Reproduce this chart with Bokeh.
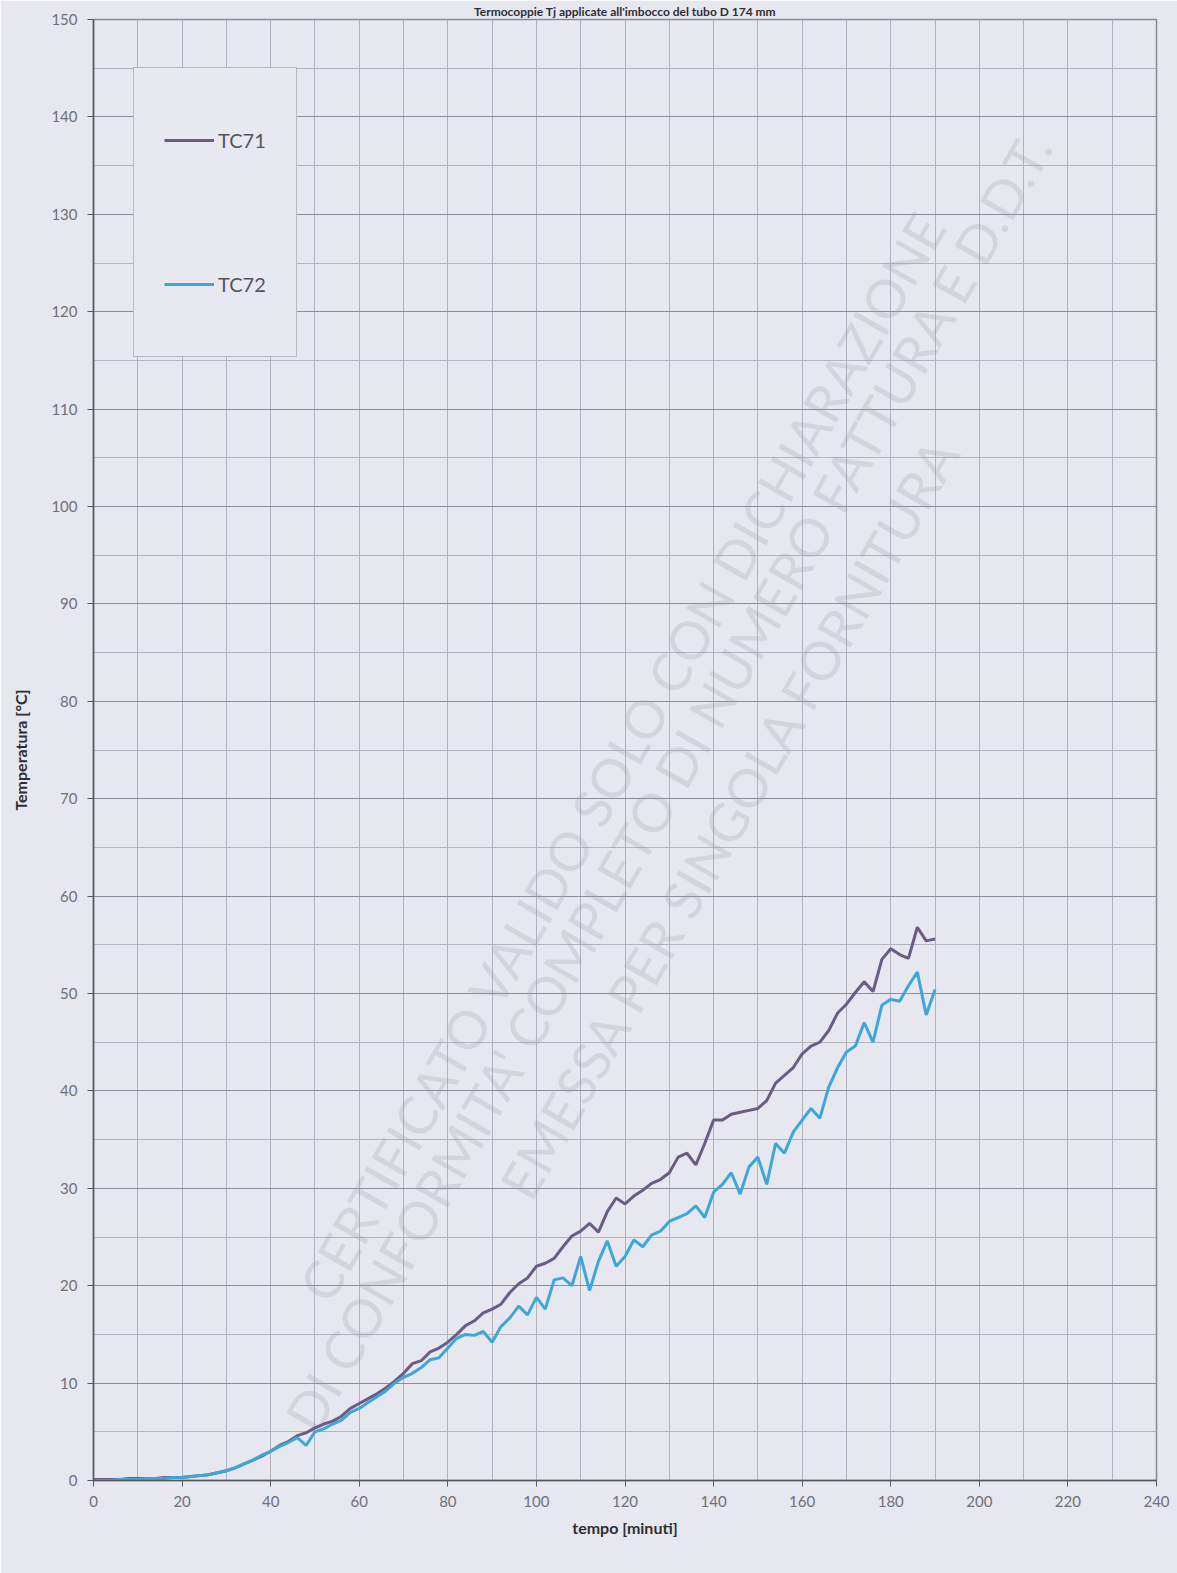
import math
from bokeh.plotting import figure
from bokeh.models import SingleIntervalTicker, Legend, LegendItem
from bokeh.core.properties import value
from bokeh.embed import file_html
from bokeh.resources import INLINE

title_text = "Termocoppie Tj applicate all'imbocco del tubo D 174 mm"
x_label = "tempo [minuti]"
y_label = "Temperatura [°C]"

time_min = [0, 2, 4, 6, 8, 10, 12, 14, 16, 18, 20, 22, 24, 26, 28, 30, 32, 34, 36, 38,
            40, 42, 44, 46, 48, 50, 52, 54, 56, 58, 60, 62, 64, 66, 68, 70, 72, 74, 76, 78,
            80, 82, 84, 86, 88, 90, 92, 94, 96, 98, 100, 102, 104, 106, 108, 110, 112, 114, 116, 118,
            120, 122, 124, 126, 128, 130, 132, 134, 136, 138, 140, 142, 144, 146, 148, 150, 152, 154, 156, 158,
            160, 162, 164, 166, 168, 170, 172, 174, 176, 178, 180, 182, 184, 186, 188, 190]

tc71 = [0.1, 0.1, 0.1, 0.1, 0.2, 0.2, 0.2, 0.2, 0.3, 0.3, 0.3, 0.4, 0.5, 0.6, 0.8, 1.0, 1.3, 1.7, 2.1, 2.5,
        3.0, 3.6, 4.0, 4.6, 4.9, 5.4, 5.8, 6.1, 6.6, 7.4, 7.9, 8.4, 8.9, 9.5, 10.2, 11.0, 12.0, 12.3, 13.2, 13.6,
        14.2, 15.0, 15.9, 16.4, 17.2, 17.6, 18.1, 19.3, 20.2, 20.8, 22.0, 22.3, 22.8, 24.0, 25.1, 25.6, 26.4, 25.5, 27.6, 29.0,
        28.4, 29.2, 29.8, 30.5, 30.9, 31.6, 33.2, 33.6, 32.4, 34.6, 37.0, 37.0, 37.6, 37.8, 38.0, 38.2, 39.0, 40.8, 41.6, 42.4,
        43.8, 44.6, 45.0, 46.2, 48.0, 48.9, 50.1, 51.2, 50.2, 53.5, 54.6, 54.0, 53.6, 56.8, 55.4, 55.6]

tc72 = [0.0, 0.0, 0.0, 0.1, 0.1, 0.1, 0.2, 0.2, 0.2, 0.3, 0.3, 0.4, 0.5, 0.6, 0.8, 1.0, 1.3, 1.7, 2.1, 2.6,
        3.0, 3.5, 3.9, 4.4, 3.6, 5.0, 5.3, 5.8, 6.2, 7.0, 7.4, 8.0, 8.6, 9.2, 10.0, 10.6, 11.0, 11.6, 12.4, 12.6,
        13.6, 14.6, 15.0, 14.9, 15.3, 14.2, 15.8, 16.7, 17.9, 17.0, 18.8, 17.6, 20.6, 20.8, 20.0, 23.0, 19.5, 22.5, 24.6, 22.0,
        23.0, 24.7, 24.0, 25.2, 25.6, 26.6, 27.0, 27.4, 28.2, 27.0, 29.6, 30.4, 31.6, 29.4, 32.2, 33.2, 30.4, 34.6, 33.6, 35.8,
        37.0, 38.2, 37.2, 40.4, 42.4, 44.0, 44.6, 47.0, 45.0, 48.8, 49.4, 49.2, 50.8, 52.2, 47.8, 50.4]

series_names = ["TC71", "TC72"]

watermark_lines = ["CERTIFICATO VALIDO  SOLO CON DICHIARAZIONE",
                   "DI CONFORMITA' COMPLETO DI NUMERO FATTURA E D.D.T.",
                   "EMESSA PER SINGOLA FORNITURA"]
watermark_x = [120.1, 129.8, 143.6]
watermark_y = [75.0, 71.8, 68.1]

BG = "#e6e7ef"
FONT = "Lato"

p = figure(width=1177, height=1573, x_range=(0, 240), y_range=(0, 150),
           output_backend="svg", toolbar_location=None, title=title_text,
           min_border_left=93, min_border_right=21, min_border_top=0, min_border_bottom=93)
p.background_fill_color = BG
p.border_fill_color = BG
p.outline_line_color = "#8a8a92"
p.outline_line_width = 1.5

p.title.align = "center"
p.title.offset = 0
p.title.standoff = 2
p.title.text_font = FONT
p.title.text_font_size = "12px"
p.title.text_font_style = "bold"
p.title.text_color = "#2e2e34"

# axes
p.xaxis.ticker = SingleIntervalTicker(interval=20, num_minor_ticks=2)
p.yaxis.ticker = SingleIntervalTicker(interval=10, num_minor_ticks=2)
for ax in (p.xaxis[0], p.yaxis[0]):
    ax.axis_line_color = "#55555c"
    ax.axis_line_width = 1.5
    ax.major_tick_line_color = "#55555c"
    ax.major_tick_out = 6
    ax.major_tick_in = 0
    ax.minor_tick_line_color = None
    ax.major_label_text_font = FONT
    ax.major_label_text_font_size = "15px"
    ax.major_label_text_color = "#707076"
    ax.axis_label_text_font = FONT
    ax.axis_label_text_font_style = "bold"
    ax.axis_label_text_font_size = "16px"
    ax.axis_label_text_color = "#2e2e34"
p.xaxis.axis_label = x_label
p.yaxis.axis_label = y_label
p.xaxis.major_label_standoff = 9
p.xaxis.axis_label_standoff = 8
p.yaxis.major_label_standoff = 10
p.yaxis.axis_label_standoff = 18

# grid
p.xgrid.grid_line_color = "#b0b1ba"
p.xgrid.grid_line_width = 1
p.xgrid.minor_grid_line_color = "#b0b1ba"
p.xgrid.minor_grid_line_width = 1
p.ygrid.grid_line_color = "#8c8d96"
p.ygrid.grid_line_width = 1.2
p.ygrid.minor_grid_line_color = "#b3b4bd"
p.ygrid.minor_grid_line_width = 1

# watermark
p.text(x=watermark_x, y=watermark_y, text=watermark_lines, angle=math.radians(60.2),
       text_align="center", text_baseline="middle", text_font=value(FONT),
       text_font_size="53px", text_color="#9d9ea8", text_alpha=0.26)

r1 = p.line(time_min, tc71, line_color="#6b5b86", line_width=3)
r2 = p.line(time_min, tc72, line_color="#3fa6d8", line_width=3)

legend = Legend(items=[LegendItem(label=series_names[0], renderers=[r1]),
                       LegendItem(label=series_names[1], renderers=[r2])],
                location=(40, 1463 - 54 - 286))
legend.label_height = 84
legend.glyph_height = 84
legend.glyph_width = 50
legend.spacing = 60
legend.padding = 30
legend.margin = 0
legend.label_standoff = 4
legend.label_text_font = FONT
legend.label_text_font_size = "20px"
legend.label_text_color = "#55555c"
legend.background_fill_color = "#e8e9f0"
legend.background_fill_alpha = 1.0
legend.border_line_color = "#8a8a92"
legend.border_line_width = 1.5
p.add_layout(legend)

open("out.html", "w").write(file_html(p, INLINE))
